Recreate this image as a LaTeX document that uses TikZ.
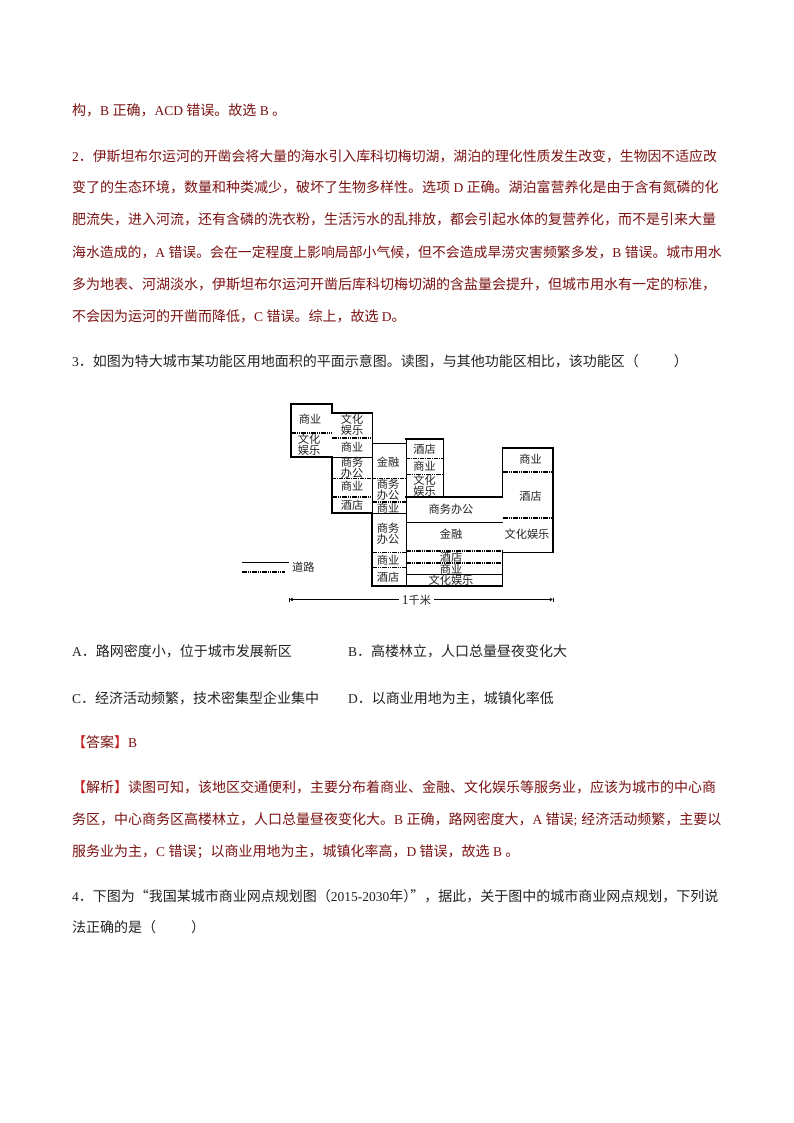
\documentclass[tikz,border=0pt]{standalone}
\usepackage{fontspec}
\setmainfont{Noto Sans CJK SC}
\newfontfamily\latfont{Liberation Serif}
\usetikzlibrary{arrows.meta}
\newcommand{\lat}[1]{{\latfont\fontsize{13.5}{14}\selectfont #1}}
\definecolor{ansred}{HTML}{7A1212}
\definecolor{brkred}{HTML}{C81E1E}
\definecolor{qgray}{HTML}{222222}
\tikzset{
  txt/.style = {anchor=base west, inner sep=0, font=\fontsize{14}{14}\selectfont},
  ans/.style = {txt, text=ansred},
  qst/.style = {txt, text=qgray},
  tight/.style = {font=\fontsize{13.87}{14}\selectfont},
  zone/.style = {inner sep=0, align=center, font=\fontsize{11.2}{11}\selectfont, text=qgray},
  wall/.style = {line width=1.6pt, line cap=rect},
  inner/.style = {line width=0.7pt},
  road/.style = {line width=1.3pt, dash pattern=on 5pt off 1pt on 1pt off 1pt on 1pt off 1pt},
  thinroad/.style = {line width=0.8pt, dash pattern=on 4pt off 1pt on 1pt off 1pt},
}
\begin{document}
\begin{tikzpicture}[x=1pt, y=-1pt]
\useasboundingbox[fill=white] (0, 0) rectangle (794, 1123);
% text above the plan
\node[ans] (l1) at (72, 116) {构，\lat{B }正确，\lat{ACD }错误。故选\lat{ B }。};
\node[ans, tight] (l2) at (72, 162) {\lat{2}．伊斯坦布尔运河的开凿会将大量的海水引入库科切梅切湖，湖泊的理化性质发生改变，生物因不适应改};
\node[ans] (l3) at (72, 193) {变了的生态环境，数量和种类减少，破坏了生物多样性。选项\lat{ D }正确。湖泊富营养化是由于含有氮磷的化};
\node[ans] (l4) at (72, 225) {肥流失，进入河流，还有含磷的洗衣粉，生活污水的乱排放，都会引起水体的复营养化，而不是引来大量};
\node[ans, tight] (l5) at (72, 257) {海水造成的，\lat{A }错误。会在一定程度上影响局部小气候，但不会造成旱涝灾害频繁多发，\lat{B }错误。城市用水};
\node[ans] (l6) at (72, 289) {多为地表、河湖淡水，伊斯坦布尔运河开凿后库科切梅切湖的含盐量会提升，但城市用水有一定的标准，};
\node[ans] (l7) at (72, 321) {不会因为运河的开凿而降低，\lat{C }错误。综上，故选\lat{ D}。};
\node[qst] (q3) at (72, 366) {\lat{3}．如图为特大城市某功能区用地面积的平面示意图。读图，与其他功能区相比，该功能区（\hspace{2.5em}）};
% plan: outer walls
\draw[wall] (332, 457) -- (291, 457) -- (291, 404) -- (332, 404) -- (332, 413) -- (372, 413);
\draw[wall] (332, 457) -- (332, 513) -- (372, 513) -- (372, 586) -- (502.5, 586) -- (502.5, 552.5) -- (553, 552.5) -- (553, 448) -- (502.5, 448) -- (502.5, 497) -- (406, 497);
\draw[wall] (406, 439) -- (443, 439);
\draw[inner] (372, 413) -- (372, 443) -- (406, 443);
\draw[inner] (372, 443) -- (372, 513);
\draw[inner] (406, 439) -- (406, 586);
\draw[inner] (443, 439) -- (443, 497);
\draw[inner] (372, 513) -- (406, 513);
\draw[inner] (332, 457) -- (372, 457);
\draw[inner] (406, 522.5) -- (502.5, 522.5);
\draw[inner] (406, 574.5) -- (502.5, 574.5);
% plan: secondary roads
\draw[road] (291, 433) -- (332, 433);
\draw[road] (332, 438) -- (372, 438);
\draw[thinroad] (332, 478) -- (372, 478);
\draw[road] (332, 497) -- (372, 497);
\draw[thinroad] (372, 478) -- (406, 478);
\draw[road] (372, 502) -- (406, 502);
\draw[road] (372, 552.5) -- (406, 552.5);
\draw[road] (372, 567.5) -- (406, 567.5);
\draw[thinroad] (406, 458.5) -- (443, 458.5);
\draw[road] (406, 474.5) -- (443, 474.5);
\draw[road] (406, 551) -- (502.5, 551);
\draw[road] (406, 563) -- (502.5, 563);
\draw[road] (502.5, 472) -- (553, 472);
\draw[road] (502.5, 518) -- (553, 518);
% plan: labels
\node[zone] (a1) at (310, 419) {商业};
\node[zone] (a2) at (309, 445) {文化\\娱乐};
\node[zone] (b1) at (352, 424.5) {文化\\娱乐};
\node[zone] (b2) at (352, 447.5) {商业};
\node[zone] (b3) at (352, 468) {商务\\办公};
\node[zone] (b4) at (352, 486.5) {商业};
\node[zone] (b5) at (352, 505) {酒店};
\node[zone] (c1) at (388, 462.5) {金融};
\node[zone] (c2) at (388, 490) {商务\\办公};
\node[zone] (c3) at (388, 508.5) {商业};
\node[zone] (c4) at (388, 533.5) {商务\\办公};
\node[zone] (c5) at (388, 560) {商业};
\node[zone] (c6) at (388, 577.5) {酒店};
\node[zone] (d1) at (424.5, 449) {酒店};
\node[zone] (d2) at (424.5, 466) {商业};
\node[zone] (d3) at (424.5, 486) {文化\\娱乐};
\node[zone] (e1) at (451, 509.5) {商务办公};
\node[zone] (e2) at (451, 534.5) {金融};
\node[zone] (e3) at (451, 557.5) {酒店};
\node[zone] (e4) at (451, 569.5) {商业};
\node[zone] (e5) at (451, 580) {文化娱乐};
\node[zone] (f1) at (530.5, 459.5) {商业};
\node[zone] (f2) at (530.5, 496) {酒店};
\node[zone] (f3) at (527, 534) {文化娱乐};
% plan: legend and scale
\coordinate (legA) at (242, 562.5);
\coordinate (legB) at (289, 562.5);
\coordinate (legC) at (242, 572);
\coordinate (legD) at (285, 572);
\draw[inner] (legA) -- (legB);
\draw[road] (legC) -- (legD);
\node[zone, anchor=west] (legtxt) at (292, 567) {道路};
\coordinate (scaleL) at (289, 599.5);
\coordinate (scaleR) at (553.5, 599.5);
\draw[inner, {Bar[width=4pt].Latex[length=3pt,width=4pt]}-{Latex[length=3pt,width=4pt].Bar[width=4pt]}] (scaleL) -- (scaleR);
\node[zone, fill=white, inner xsep=3pt] (scaletxt) at (416.5, 600) {\lat{1}千米};
% text below the plan
\node[qst] (oa) at (72, 656.5) {\lat{A}．路网密度小，位于城市发展新区};
\node[qst] (ob) at (348, 656.5) {\lat{B}．高楼林立，人口总量昼夜变化大};
\node[qst] (oc) at (72, 703) {\lat{C}．经济活动频繁，技术密集型企业集中};
\node[qst] (od) at (348, 703) {\lat{D}．以商业用地为主，城镇化率低};
\node[ans] (an) at (72, 747.5) {\textcolor{brkred}{【}答案\textcolor{brkred}{】}\lat{B}};
\node[ans] (l8) at (72, 792) {\textcolor{brkred}{【}解析\textcolor{brkred}{】}读图可知，该地区交通便利，主要分布着商业、金融、文化娱乐等服务业，应该为城市的中心商};
\node[ans] (l9) at (72, 824) {务区，中心商务区高楼林立，人口总量昼夜变化大。\lat{B }正确，路网密度大，\lat{A }错误\lat{;\hspace{4pt}}经济活动频繁，主要以};
\node[ans] (l10) at (72, 856) {服务业为主，\lat{C }错误；以商业用地为主，城镇化率高，\lat{D }错误，故选\lat{ B }。};
\node[qst] (q4) at (72, 901) {\lat{4}．下图为“我国某城市商业网点规划图（\lat{2015-2030}年）\hspace{-.5em}”，据此，关于图中的城市商业网点规划，下列说};
\node[qst] (q4b) at (72, 932) {法正确的是（\hspace{2.5em}）};
\end{tikzpicture}
\end{document}
